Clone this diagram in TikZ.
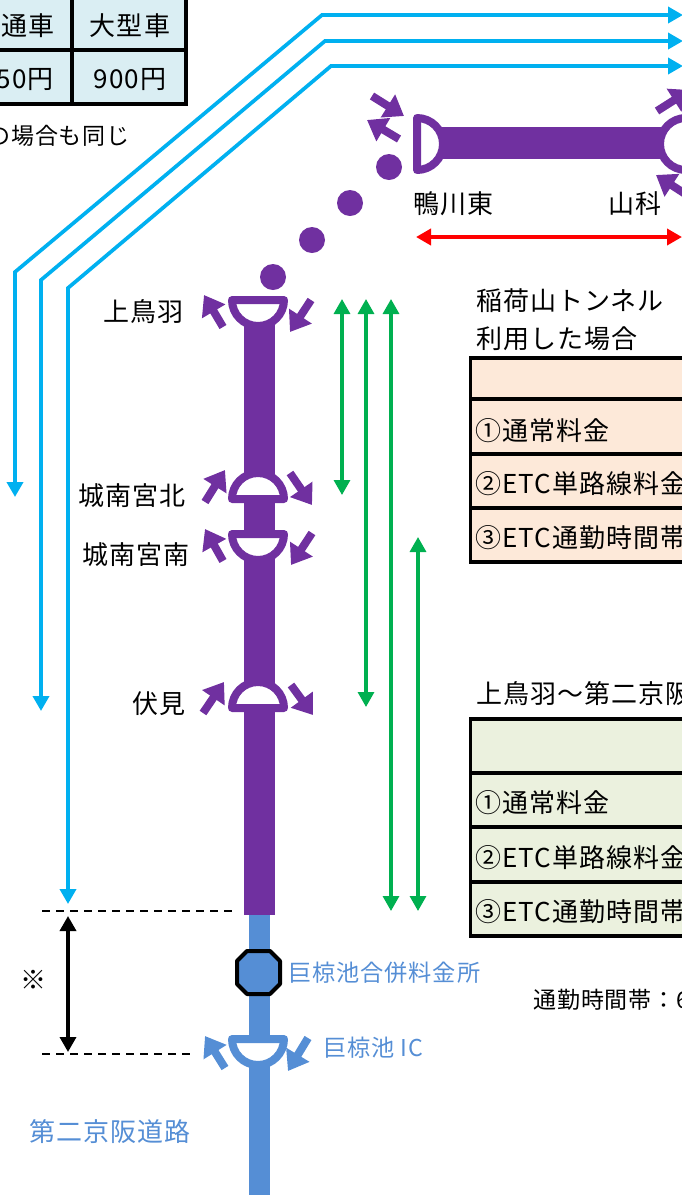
\documentclass[tikz,border=0pt]{standalone}
\usepackage{fontspec}
\setmainfont{Noto Sans CJK JP}[LetterSpace=4]
\usetikzlibrary{arrows.meta}
\definecolor{road}{HTML}{7030A0}
\definecolor{roadb}{HTML}{558ED5}
\definecolor{route}{HTML}{00B0F0}
\definecolor{span}{HTML}{00B050}
\definecolor{tblue}{HTML}{DAEEF3}
\definecolor{tpeach}{HTML}{FDE9D9}
\definecolor{tgreen}{HTML}{EBF1DE}
\tikzset{
	lbl/.style={font=\fontsize{26}{30}\selectfont, inner sep=0pt},
	small/.style={font=\fontsize{23}{28}\selectfont, inner sep=0pt},
	blbl/.style={lbl, text=roadb},
	routeline/.style={line width=3.7pt, route, line join=miter, {Triangle[length=15pt,width=16pt]}-{Triangle[length=15pt,width=16pt]}},
	spanline/.style={line width=3.3pt, span, {Triangle[length=15pt,width=16pt]}-{Triangle[length=15pt,width=16pt]}},
	ramp/.style={line width=8pt, road, -{Triangle[length=19pt,width=26pt]}},
	rampb/.style={ramp, roadb},
	ic/.style={line width=8pt, line join=round, draw=road, fill=white},
	icb/.style={ic, draw=roadb},
	grid line/.style={line width=3.8pt},
	dot/.style={circle, fill=road, inner sep=0pt, minimum size=26pt}
}
\begin{document}
\begin{tikzpicture}[x=1pt,y=-1pt]
			\useasboundingbox (0,0) rectangle (681,1195);
			
			% fee tables
			\fill[tblue] (-5,-5) rectangle (186,104);
			\draw[grid line] (-5,50) -- (186,50);
			\draw[grid line] (-5,104) -- (186,104);
			\draw[grid line] (72,-5) -- (72,104);
			\draw[grid line] (186,-5) -- (186,106);
			\node[lbl, anchor=east] (cartype) at (55,26) {普通車};
			\node[lbl] (bigtype) at (130,26) {大型車};
			\node[lbl, anchor=east] (carfee) at (54,80) {50円};
			\node[lbl] (bigfee) at (130,80) {900円};
			\node[small, anchor=east] (feenote) at (130,136) {の場合も同じ};
			
			\fill[tpeach] (470.5,358) rectangle (690,562);
			\draw[grid line] (690,358) -- (470.5,358) -- (470.5,562) -- (690,562);
			\draw[grid line] (470.5,399) -- (690,399);
			\draw[grid line] (470.5,454) -- (690,454);
			\draw[grid line] (470.5,508) -- (690,508);
			\node[lbl, anchor=west] (inaria) at (476,301) {稲荷山トンネル};
			\node[lbl, anchor=west] (inarib) at (476,339) {利用した場合};
			\node[lbl, anchor=west] (pa) at (475,431) {①通常料金};
			\node[lbl, anchor=west] (pb) at (475,484) {②ETC単路線料金};
			\node[lbl, anchor=west] (pc) at (475,538) {③ETC通勤時間帯};
			
			\fill[tgreen] (470.5,719) rectangle (690,936);
			\draw[grid line] (690,719) -- (470.5,719) -- (470.5,936) -- (690,936);
			\draw[grid line] (470.5,773) -- (690,773);
			\draw[grid line] (470.5,827) -- (690,827);
			\draw[grid line] (470.5,882) -- (690,882);
			\node[lbl, anchor=west] (toba) at (476,694) {上鳥羽～第二京阪};
			\node[lbl, anchor=west] (ga) at (475,803) {①通常料金};
			\node[lbl, anchor=west] (gb) at (475,858) {②ETC単路線料金};
			\node[lbl, anchor=west] (gc) at (475,912) {③ETC通勤時間帯};
			\node[small, anchor=west] (commute) at (533,1000) {通勤時間帯：6};
			
			% routes
			\draw[routeline] (683,15) -- (322,15) -- (15,272) -- (15,497);
			\draw[routeline] (683,41) -- (325,41) -- (41,280) -- (41,711);
			\draw[routeline] (683,66) -- (331,66) -- (68,288) -- (68,904);
			
			% roads
			\draw[line width=21pt, roadb] (259.5,915) -- (259.5,1195);
			\draw[line width=31.5pt, road] (259.5,310) -- (259.5,915);
			\draw[line width=32pt, road] (430,143) -- (670,143);
			
			\draw[icb] (284,1039) arc (0:180:26) -- cycle;
			\draw[ic] (284,300) arc (0:180:26) -- cycle;
			\draw[ic] (284,499) arc (0:-180:26) -- cycle;
			\draw[ic] (284,534) arc (0:180:26) -- cycle;
			\draw[ic] (284,708) arc (0:-180:26) -- cycle;
			\draw[ic] (417,118) arc (-90:90:26) -- cycle;
			\draw[ic] (686,118) arc (-90:-270:26) -- cycle;
			
			\draw[ramp] (372,96) -- (404,116);
			\draw[ramp] (399,139) -- (367,120);
			\draw[ramp] (657,111) -- (690,90);
			\draw[ramp] (690,197) -- (656,175);
			\draw[ramp] (223,327) -- (204,295);
			\draw[ramp] (311,300) -- (290,332);
			\draw[ramp] (205,502) -- (225,470);
			\draw[ramp] (290,473) -- (312,505);
			\draw[ramp] (223,561) -- (205,529);
			\draw[ramp] (312,533) -- (291,565);
			\draw[ramp] (203,713) -- (224,682);
			\draw[ramp] (291,685) -- (313,715);
			\draw[rampb] (225,1068) -- (205,1036);
			\draw[rampb] (308,1038) -- (288,1071);
			
			\node[dot] (da) at (389,167) {};
			\node[dot] (db) at (350,203) {};
			\node[dot] (dc) at (312,240) {};
			\node[dot] (dd) at (273,277) {};
			
			% toll gate
			\draw[line width=4pt, fill=roadb, line join=round] (247,951) -- (270,951) -- (280,961) -- (280,984) -- (270,994) -- (247,994) -- (237,984) -- (237,961) -- cycle;
			
			% spans
			\draw[line width=3.7pt, red, {Triangle[length=15pt,width=16pt]}-{Triangle[length=15pt,width=16pt]}] (416,237) -- (682,237);
			\draw[spanline] (342,299) -- (342,495);
			\draw[spanline] (366,299) -- (366,707);
			\draw[spanline] (391,299) -- (391,911);
			\draw[spanline] (418,537) -- (418,911);
			\draw[line width=1.3pt, dash pattern=on 8pt off 6pt] (42,911) -- (232,911);
			\draw[line width=1.3pt, dash pattern=on 8pt off 6pt] (42,1054) -- (190,1054);
			\draw[line width=3.5pt, {Triangle[length=15pt,width=16pt]}-{Triangle[length=15pt,width=16pt]}] (68,916) -- (68,1052);
			
			% labels
			\node[lbl, anchor=west] (kamo) at (413,204) {鴨川東};
			\node[lbl, anchor=west] (yama) at (608,204) {山科};
			\node[lbl, anchor=east] (kami) at (184,312) {上鳥羽};
			\node[lbl, anchor=east] (jokita) at (186,496) {城南宮北};
			\node[lbl, anchor=east] (jominami) at (190,555) {城南宮南};
			\node[lbl, anchor=east] (fushimi) at (186,704) {伏見};
			\node[lbl] (mark) at (33,980) {※};
			\node[blbl, anchor=west, font=\fontsize{23.2}{28}\selectfont] (gate) at (288,973) {巨椋池合併料金所};
			\node[blbl, anchor=west, font=\fontsize{23.2}{28}\selectfont] (ogura) at (323,1048) {巨椋池 IC};
			\node[blbl, anchor=west] (daini) at (29,1132) {第二京阪道路};
		\end{tikzpicture}
\end{document}
